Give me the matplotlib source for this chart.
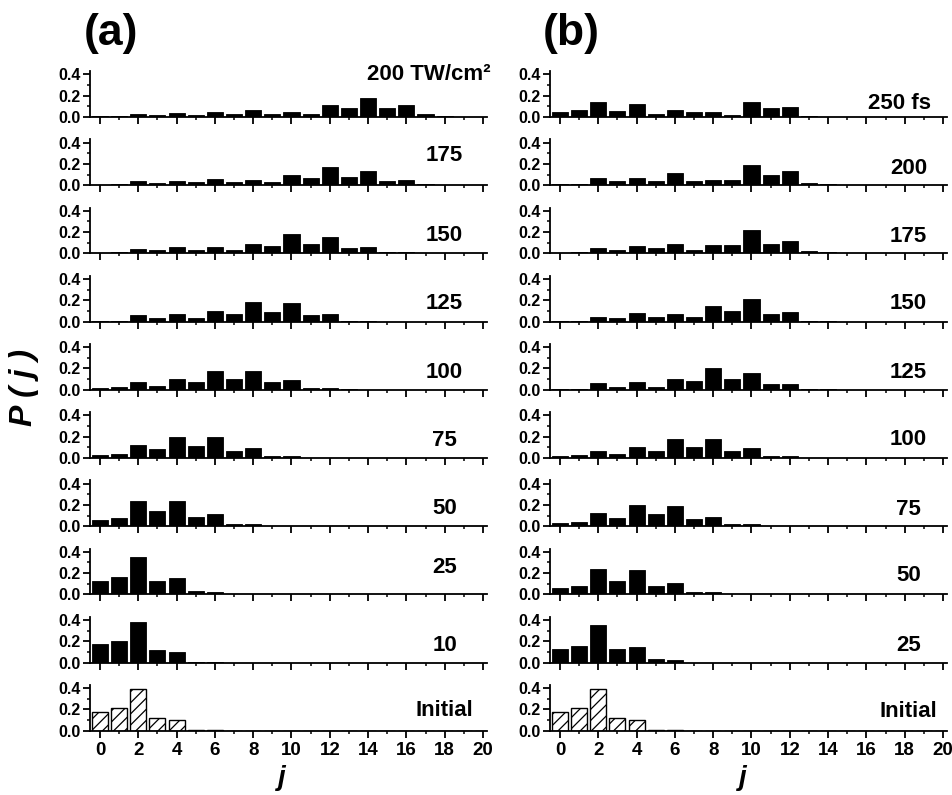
import numpy as np
import matplotlib
matplotlib.use("Agg")
import matplotlib.pyplot as plt
from matplotlib.ticker import MultipleLocator

plt.rcParams['font.family'] = ['Liberation Sans', 'DejaVu Sans']
plt.rcParams['font.weight'] = 'bold'
plt.rcParams['hatch.linewidth'] = 0.9

j = np.arange(21)

def pad21(v):
    return list(v) + [0.0] * (21 - len(v))

initial = pad21([0.18, 0.21, 0.39, 0.12, 0.10, 0.012, 0.005, 0.002, 0.002, 0.002])

# (a) intensity series, TW/cm^2
labels_a = ['200 TW/cm\u00b2', '175', '150', '125', '100', '75', '50', '25', '10', 'Initial']
p_a200 = pad21([0.01, 0.01, 0.03, 0.02, 0.04, 0.02, 0.05, 0.03, 0.07, 0.03, 0.05, 0.03,
                0.11, 0.08, 0.18, 0.08, 0.11, 0.03, 0.01])
p_a175 = pad21([0.005, 0.01, 0.04, 0.02, 0.04, 0.03, 0.06, 0.03, 0.05, 0.03, 0.10, 0.07,
                0.17, 0.08, 0.13, 0.04, 0.05, 0.01, 0.005])
p_a150 = pad21([0.005, 0.01, 0.04, 0.03, 0.06, 0.03, 0.06, 0.03, 0.09, 0.07, 0.18, 0.09,
                0.15, 0.05, 0.06, 0.01, 0.01])
p_a125 = pad21([0.005, 0.01, 0.06, 0.03, 0.07, 0.03, 0.10, 0.07, 0.18, 0.09, 0.17, 0.06,
                0.07, 0.01, 0.01])
p_a100 = pad21([0.02, 0.03, 0.07, 0.04, 0.10, 0.07, 0.18, 0.10, 0.18, 0.07, 0.09, 0.02,
                0.02, 0.005])
p_a75 = pad21([0.03, 0.04, 0.12, 0.08, 0.20, 0.11, 0.20, 0.07, 0.09, 0.02, 0.02])
p_a50 = pad21([0.06, 0.08, 0.24, 0.14, 0.24, 0.09, 0.11, 0.02, 0.02])
p_a25 = pad21([0.13, 0.16, 0.35, 0.13, 0.15, 0.03, 0.02])
p_a10 = pad21([0.17, 0.20, 0.38, 0.12, 0.10, 0.01, 0.005])
series_a = [p_a200, p_a175, p_a150, p_a125, p_a100, p_a75, p_a50, p_a25, p_a10, initial]

# (b) pulse duration series, fs
labels_b = ['250 fs', '200', '175', '150', '125', '100', '75', '50', '25', 'Initial']
p_b250 = pad21([0.05, 0.07, 0.14, 0.06, 0.12, 0.03, 0.07, 0.05, 0.05, 0.02, 0.14, 0.08,
                0.09, 0.01, 0.003])
p_b200 = pad21([0.01, 0.01, 0.07, 0.04, 0.07, 0.04, 0.11, 0.04, 0.05, 0.05, 0.19, 0.10,
                0.13, 0.02, 0.01])
p_b175 = pad21([0.005, 0.01, 0.05, 0.03, 0.07, 0.05, 0.09, 0.03, 0.08, 0.08, 0.22, 0.09,
                0.12, 0.02, 0.01])
p_b150 = pad21([0.005, 0.01, 0.04, 0.03, 0.08, 0.04, 0.07, 0.04, 0.15, 0.10, 0.21, 0.07,
                0.09, 0.01, 0.01])
p_b125 = pad21([0.005, 0.01, 0.06, 0.03, 0.07, 0.03, 0.10, 0.08, 0.20, 0.10, 0.16, 0.05,
                0.05, 0.005, 0.003])
p_b100 = pad21([0.02, 0.03, 0.07, 0.04, 0.10, 0.07, 0.18, 0.10, 0.18, 0.07, 0.09, 0.02,
                0.02])
p_b75 = pad21([0.03, 0.04, 0.12, 0.08, 0.20, 0.11, 0.19, 0.07, 0.09, 0.02, 0.02])
p_b50 = pad21([0.06, 0.08, 0.24, 0.13, 0.23, 0.08, 0.11, 0.02, 0.02])
p_b25 = pad21([0.13, 0.16, 0.35, 0.13, 0.15, 0.03, 0.02])
series_b = [p_b250, p_b200, p_b175, p_b150, p_b125, p_b100, p_b75, p_b50, p_b25, initial]

# label heights inside each panel (data units)
label_y_a = [0.40, 0.28, 0.17, 0.17, 0.16, 0.16, 0.17, 0.25, 0.16, 0.19]
label_y_b = [0.13, 0.16, 0.16, 0.17, 0.16, 0.17, 0.16, 0.18, 0.16, 0.18]

W, H = 953, 795
fig = plt.figure(figsize=(W / 100, H / 100), dpi=100)

xlo, xhi = -0.52, 20.2
ytop = 0.43
px_x = 19.15
px_y = 106.7
ax_w = (xhi - xlo) * px_x
ax_h = ytop * px_y


def make_panel(left_px, base_px, vals, label, ly, last, ha_label='center', lx=18.0):
    ax = fig.add_axes([left_px / W, (H - base_px) / H, ax_w / W, ax_h / H])
    if label == 'Initial':
        ax.bar(j, vals, width=0.84, color='white', edgecolor='black',
               hatch='///', linewidth=1.0)
    else:
        ax.bar(j, vals, width=0.84, color='black', edgecolor='black', linewidth=0.6)
    ax.set_xlim(xlo, xhi)
    ax.set_ylim(0, ytop)
    for s in ['top', 'right']:
        ax.spines[s].set_visible(False)
    for s in ['left', 'bottom']:
        ax.spines[s].set_linewidth(1.3)
    ax.xaxis.set_major_locator(MultipleLocator(2))
    ax.xaxis.set_minor_locator(MultipleLocator(1))
    ax.yaxis.set_minor_locator(MultipleLocator(0.1))
    ax.set_yticks([0.0, 0.2, 0.4])
    ax.set_yticklabels(['0.0', '0.2', '0.4'])
    ax.tick_params(axis='both', which='major', direction='out', length=5, width=1.3,
                   labelsize=11.5, pad=2)
    ax.tick_params(axis='both', which='minor', direction='out', length=2.5, width=1.1)
    ax.tick_params(axis='x', which='major', labelsize=13.5, pad=3)
    if not last:
        ax.tick_params(axis='x', labelbottom=False)
    for t in ax.get_xticklabels() + ax.get_yticklabels():
        t.set_fontweight('bold')
    ax.text(lx, ly, label, ha=ha_label, va='center', fontsize=16, fontweight='bold')
    return ax


spacing = 68.2
for i in range(10):
    base = 117 + i * spacing
    if i == 0:
        make_panel(90, base, series_a[i], labels_a[i], label_y_a[i], i == 9,
                   ha_label='right', lx=20.4)
    else:
        make_panel(90, base, series_a[i], labels_a[i], label_y_a[i], i == 9)
    lx_b = 17.75 if i == 0 else 18.2
    make_panel(550, base, series_b[i], labels_b[i], label_y_b[i], i == 9, lx=lx_b)

fig.text(111 / W, 1 - 34 / H, '(a)', fontsize=32, fontweight='bold', ha='center', va='center')
fig.text(571 / W, 1 - 34 / H, '(b)', fontsize=32, fontweight='bold', ha='center', va='center')
fig.text(24 / W, 1 - 388 / H, 'P ( j )', fontsize=23, fontweight='bold', style='italic',
         rotation=90, ha='center', va='center')
fig.text(282 / W, 1 - 778 / H, 'j', fontsize=20, fontweight='bold', style='italic',
         ha='center', va='center')
fig.text(743 / W, 1 - 778 / H, 'j', fontsize=20, fontweight='bold', style='italic',
         ha='center', va='center')

fig.savefig('out.png', dpi=100)
